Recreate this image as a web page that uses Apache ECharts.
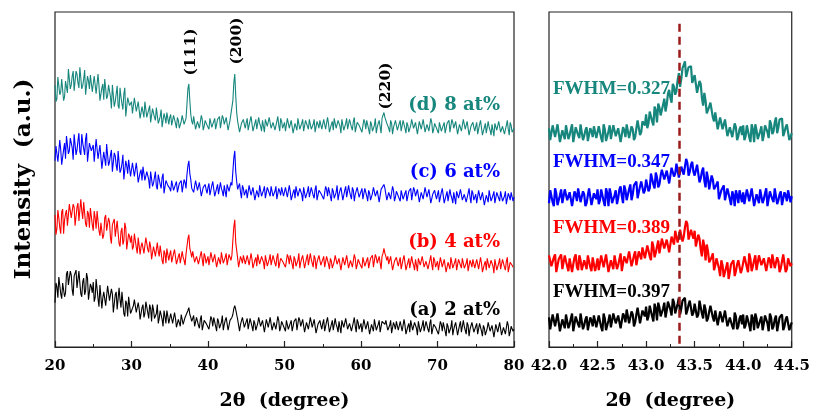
<!DOCTYPE html>
<html>
<head>
<meta charset="utf-8">
<script src="https://cdn.jsdelivr.net/npm/echarts@6/dist/echarts.min.js"></script>
<style>
  html, body { margin: 0; padding: 0; background: #fff; }
  #chart { width: 813px; height: 416px; }
</style>
</head>
<body>
<div id="chart"></div>
<script>
// full scan 20-80 deg: readings at every 0.25 deg ("wide*")
// plus the readings half a step later ("wide*Mid"), offset intensities in a.u.
var wideStart = 20, wideStep = 0.25;
var wideD = [
  266, 252, 274, 259, 272, 254, 270, 282, 262, 275, 260, 280, 268, 284, 262, 272, 256, 275, 262, 276,
  260, 274, 255, 265, 249, 267, 272, 252, 266, 254, 266, 244, 257, 245, 263, 247, 257, 234, 253, 245,
  249, 238, 251, 239, 248, 233, 242, 249, 233, 241, 228, 242, 233, 243, 227, 234, 223, 237, 227, 238,
  233, 225, 235, 227, 233, 222, 229, 235, 224, 246, 267, 236, 226, 233, 223, 228, 220, 231, 224, 232,
  224, 232, 223, 229, 221, 231, 234, 224, 232, 226, 233, 222, 229, 250, 277, 238, 230, 219, 229, 226,
  228, 220, 230, 232, 223, 231, 221, 227, 219, 229, 231, 224, 233, 222, 228, 220, 229, 225, 232, 222,
  228, 220, 231, 223, 229, 219, 226, 232, 221, 227, 219, 230, 224, 231, 221, 226, 218, 229, 222, 230,
  222, 230, 221, 227, 219, 229, 232, 222, 230, 224, 231, 220, 227, 221, 231, 223, 229, 218, 228, 225,
  226, 218, 228, 230, 221, 229, 219, 225, 217, 227, 229, 232, 238, 230, 226, 218, 227, 223, 230, 220,
  227, 219, 230, 222, 228, 218, 225, 231, 220, 226, 218, 229, 223, 230, 220, 225, 217, 228, 221, 229,
  220, 228, 219, 225, 217, 227, 230, 220, 228, 222, 229, 218, 225, 219, 229, 221, 227, 216, 226, 223,
  224, 216, 226, 228, 219, 227, 217, 223, 215, 225, 227, 220, 229, 218, 224, 216, 225, 221, 228, 218,
  222
];
var wideDMid = [
  249, 274, 256, 272, 250, 270, 258, 280, 266, 280, 258, 277, 263, 285, 265, 281, 257, 270, 276, 259,
  275, 257, 277, 250, 263, 251, 271, 255, 264, 242, 264, 249, 265, 242, 254, 241, 263, 236, 252, 243,
  237, 253, 239, 249, 232, 244, 233, 249, 237, 245, 227, 240, 230, 244, 230, 241, 222, 233, 238, 226,
  236, 226, 237, 222, 230, 223, 235, 226, 232, 262, 250, 229, 234, 221, 229, 222, 235, 220, 230, 225,
  221, 234, 224, 232, 219, 229, 222, 235, 226, 233, 220, 230, 232, 268, 255, 229, 218, 227, 231, 222,
  232, 222, 234, 219, 227, 221, 233, 224, 230, 218, 231, 223, 233, 220, 228, 221, 234, 219, 229, 224,
  219, 232, 222, 230, 217, 227, 220, 233, 224, 231, 218, 228, 221, 233, 223, 231, 217, 226, 230, 221,
  231, 221, 233, 218, 226, 220, 232, 223, 229, 217, 230, 222, 232, 219, 227, 220, 233, 218, 228, 223,
  218, 231, 221, 229, 216, 226, 219, 232, 223, 230, 217, 232, 233, 227, 222, 230, 216, 225, 229, 220,
  230, 220, 232, 217, 225, 219, 231, 222, 228, 216, 229, 221, 231, 218, 226, 219, 232, 217, 227, 222,
  217, 230, 220, 228, 215, 225, 218, 231, 222, 229, 216, 226, 219, 231, 221, 229, 215, 224, 228, 219,
  228, 218, 230, 215, 223, 217, 229, 220, 226, 214, 227, 219, 229, 216, 224, 217, 230, 215, 225, 220
];
var wideC = [
  189, 205, 188, 200, 186, 207, 214, 196, 212, 202, 216, 195, 209, 198, 216, 201, 211, 188, 207, 199,
  205, 189, 209, 192, 203, 182, 196, 206, 184, 195, 178, 197, 184, 199, 177, 186, 170, 189, 176, 190,
  175, 185, 171, 178, 168, 180, 183, 169, 178, 170, 178, 163, 172, 163, 175, 165, 172, 156, 169, 164,
  161, 169, 159, 165, 157, 166, 169, 159, 167, 175, 189, 170, 163, 157, 167, 159, 165, 154, 163, 160,
  162, 154, 164, 166, 157, 165, 155, 161, 153, 163, 165, 158, 167, 178, 199, 168, 161, 157, 164, 154,
  160, 152, 163, 155, 161, 151, 158, 164, 153, 159, 151, 162, 156, 163, 153, 158, 150, 161, 154, 162,
  153, 161, 152, 158, 150, 160, 163, 153, 161, 155, 162, 151, 158, 152, 162, 154, 160, 149, 159, 156,
  158, 150, 160, 162, 153, 161, 151, 157, 149, 159, 161, 154, 163, 152, 158, 150, 159, 155, 162, 152,
  158, 150, 161, 153, 159, 149, 156, 162, 151, 157, 149, 160, 165, 160, 151, 156, 148, 159, 152, 160,
  151, 159, 150, 156, 148, 158, 161, 151, 159, 153, 160, 149, 156, 150, 160, 152, 158, 147, 157, 154,
  155, 147, 157, 159, 150, 158, 148, 154, 146, 156, 158, 151, 160, 149, 155, 147, 156, 152, 159, 149,
  155, 147, 158, 150, 156, 146, 153, 159, 148, 154, 146, 157, 151, 158, 148, 153, 145, 156, 149, 157,
  152
];
var wideCMid = [
  204, 188, 210, 185, 200, 191, 213, 199, 210, 190, 214, 200, 217, 195, 207, 195, 217, 190, 206, 197,
  188, 211, 191, 205, 181, 198, 184, 204, 188, 200, 176, 194, 179, 200, 180, 195, 171, 184, 190, 173,
  187, 173, 187, 167, 177, 169, 183, 170, 177, 161, 176, 166, 178, 160, 170, 161, 176, 157, 169, 162,
  158, 171, 160, 168, 155, 164, 157, 170, 161, 184, 176, 161, 157, 169, 159, 167, 153, 162, 165, 156,
  166, 156, 168, 153, 161, 155, 167, 158, 164, 152, 165, 157, 164, 192, 178, 160, 166, 151, 161, 156,
  151, 164, 154, 162, 149, 159, 152, 165, 156, 163, 150, 160, 153, 165, 155, 163, 149, 158, 162, 153,
  162, 152, 164, 149, 157, 151, 163, 154, 160, 148, 161, 153, 163, 150, 158, 151, 164, 149, 159, 154,
  150, 163, 153, 161, 148, 158, 151, 164, 155, 162, 149, 159, 152, 164, 154, 162, 148, 157, 161, 152,
  161, 151, 163, 148, 156, 150, 162, 153, 159, 147, 160, 162, 161, 149, 157, 150, 163, 148, 158, 153,
  148, 161, 151, 159, 146, 156, 149, 162, 153, 160, 147, 157, 150, 162, 152, 160, 146, 155, 159, 150,
  159, 149, 161, 146, 154, 148, 160, 151, 157, 145, 158, 150, 160, 147, 155, 148, 161, 146, 156, 151,
  146, 159, 149, 157, 144, 154, 147, 160, 151, 158, 145, 155, 148, 160, 150, 158, 144, 153, 157, 148
];
var wideB = [
  134, 120, 131, 115, 140, 129, 139, 123, 147, 131, 142, 124, 146, 128, 138, 147, 125, 138, 121, 139,
  118, 131, 138, 118, 126, 110, 131, 118, 131, 111, 124, 130, 111, 116, 102, 121, 108, 121, 101, 112,
  113, 102, 108, 95, 112, 102, 107, 94, 109, 96, 102, 90, 104, 90, 97, 103, 88, 98, 85, 99,
  94, 86, 95, 97, 88, 95, 85, 91, 83, 102, 114, 96, 97, 86, 92, 84, 93, 89, 95, 85,
  92, 84, 95, 87, 93, 83, 90, 96, 85, 91, 83, 94, 88, 108, 129, 98, 81, 92, 85, 93,
  84, 92, 83, 89, 81, 91, 94, 84, 92, 86, 93, 82, 89, 83, 93, 85, 91, 80, 90, 87,
  89, 81, 91, 93, 84, 92, 82, 88, 80, 90, 92, 85, 94, 83, 89, 81, 90, 86, 93, 83,
  89, 81, 92, 84, 90, 80, 87, 93, 82, 88, 80, 91, 85, 92, 82, 87, 79, 90, 83, 91,
  83, 91, 82, 88, 80, 90, 93, 83, 91, 85, 92, 92, 100, 92, 92, 84, 90, 79, 89, 86,
  87, 79, 89, 91, 82, 90, 80, 86, 78, 88, 90, 83, 92, 81, 87, 79, 88, 84, 91, 81,
  87, 79, 90, 82, 88, 78, 85, 91, 80, 86, 78, 89, 83, 90, 80, 85, 77, 88, 81, 89,
  80, 88, 79, 85, 77, 87, 90, 80, 88, 82, 89, 78, 85, 79, 89, 81, 87, 76, 86, 83,
  83
];
var wideBMid = [
  114, 139, 121, 137, 115, 135, 123, 145, 131, 145, 123, 142, 128, 150, 130, 146, 122, 135, 141, 124,
  138, 120, 140, 113, 126, 114, 134, 118, 127, 105, 127, 112, 128, 105, 117, 104, 126, 99, 115, 106,
  99, 115, 101, 111, 94, 106, 95, 111, 99, 107, 89, 102, 92, 106, 92, 103, 84, 95, 100, 88,
  98, 88, 99, 84, 92, 85, 97, 88, 94, 110, 100, 91, 97, 84, 92, 85, 97, 82, 92, 87,
  83, 96, 86, 94, 81, 91, 84, 97, 88, 95, 82, 92, 93, 122, 106, 90, 80, 89, 93, 84,
  93, 83, 95, 80, 88, 82, 94, 85, 91, 79, 92, 84, 94, 81, 89, 82, 95, 80, 90, 85,
  81, 94, 84, 92, 79, 89, 82, 95, 86, 93, 80, 90, 83, 95, 85, 93, 79, 88, 92, 83,
  92, 82, 94, 79, 87, 81, 93, 84, 90, 78, 91, 83, 93, 80, 88, 81, 94, 79, 89, 84,
  80, 93, 83, 91, 78, 88, 81, 94, 85, 92, 79, 95, 95, 88, 84, 92, 78, 87, 91, 82,
  91, 81, 93, 78, 86, 80, 92, 83, 89, 77, 90, 82, 92, 79, 87, 80, 93, 78, 88, 83,
  78, 91, 81, 89, 76, 86, 79, 92, 83, 90, 77, 87, 80, 92, 82, 90, 76, 85, 89, 80,
  89, 79, 91, 76, 84, 78, 90, 81, 87, 75, 88, 80, 90, 77, 85, 78, 91, 76, 86, 81
];
var wideA = [
  45, 61, 71, 54, 65, 51, 74, 63, 77, 58, 72, 78, 60, 65, 51, 70, 57, 70, 50, 61,
  66, 50, 59, 41, 64, 50, 58, 40, 63, 45, 54, 35, 56, 38, 48, 56, 34, 47, 31, 49,
  33, 42, 47, 33, 39, 28, 43, 34, 44, 29, 39, 43, 29, 34, 24, 37, 28, 37, 24, 31,
  25, 33, 23, 29, 21, 30, 33, 23, 30, 32, 40, 30, 27, 21, 30, 22, 28, 17, 27, 24,
  26, 18, 28, 30, 21, 29, 19, 25, 17, 27, 29, 22, 28, 33, 42, 33, 27, 23, 30, 20,
  26, 18, 29, 21, 27, 17, 24, 30, 19, 25, 17, 28, 22, 29, 19, 24, 16, 27, 20, 28,
  19, 27, 18, 24, 16, 26, 29, 19, 27, 21, 28, 17, 24, 18, 28, 20, 26, 15, 25, 22,
  24, 16, 26, 28, 19, 27, 17, 23, 15, 25, 27, 20, 29, 18, 24, 16, 25, 21, 28, 18,
  24, 16, 27, 19, 25, 15, 22, 28, 17, 23, 15, 26, 25, 27, 17, 22, 14, 25, 18, 26,
  17, 25, 16, 22, 14, 24, 27, 17, 25, 19, 26, 15, 22, 16, 26, 18, 24, 13, 23, 20,
  21, 13, 23, 25, 16, 24, 14, 20, 12, 22, 24, 17, 26, 15, 21, 13, 22, 18, 25, 15,
  21, 13, 24, 16, 22, 12, 19, 25, 14, 20, 12, 23, 17, 24, 14, 19, 11, 22, 15, 23,
  18
];
var wideAMid = [
  65, 50, 73, 49, 65, 55, 77, 63, 73, 52, 75, 60, 77, 54, 66, 53, 75, 48, 64, 55,
  46, 69, 49, 63, 39, 56, 42, 62, 47, 59, 35, 53, 38, 60, 40, 55, 31, 44, 51, 34,
  32, 48, 35, 45, 28, 40, 30, 46, 35, 43, 26, 38, 28, 43, 29, 39, 21, 31, 37, 24,
  34, 24, 35, 20, 28, 21, 33, 24, 29, 37, 33, 26, 32, 19, 26, 19, 32, 17, 27, 22,
  18, 31, 21, 29, 16, 26, 19, 32, 23, 30, 17, 27, 30, 39, 38, 28, 16, 25, 29, 20,
  29, 19, 31, 16, 24, 18, 30, 21, 27, 15, 28, 20, 30, 17, 25, 18, 31, 16, 26, 21,
  16, 29, 19, 27, 14, 24, 17, 30, 21, 28, 15, 25, 18, 30, 20, 28, 14, 23, 27, 18,
  28, 18, 30, 15, 23, 17, 29, 20, 26, 14, 27, 19, 29, 16, 24, 17, 30, 15, 25, 20,
  15, 28, 18, 26, 13, 23, 16, 29, 20, 27, 14, 24, 23, 29, 19, 27, 13, 22, 26, 17,
  26, 16, 28, 13, 21, 15, 27, 18, 24, 12, 25, 17, 27, 14, 22, 15, 28, 13, 23, 18,
  13, 26, 16, 24, 11, 21, 14, 27, 18, 25, 12, 22, 15, 27, 17, 25, 11, 20, 24, 15,
  24, 14, 26, 11, 19, 13, 25, 16, 22, 10, 23, 15, 25, 12, 20, 13, 26, 11, 21, 16
];

// zoom on (200) peak, 42.0-44.5 deg, step 0.025 plus half-step readings
var zoomStart = 42, zoomStep = 0.025;
var zoomD = [
  222, 209, 226, 214, 224, 208, 219, 225, 211, 221, 208, 223, 215, 226, 210, 220, 209, 222, 213, 224,
  211, 224, 208, 221, 214, 225, 210, 226, 215, 222, 209, 220, 226, 212, 224, 210, 222, 229, 218, 227,
  236, 227, 238, 225, 240, 247, 235, 246, 239, 257, 253, 267, 256, 271, 264, 283, 290, 279, 286, 268,
  276, 258, 270, 253, 258, 237, 244, 246, 229, 236, 220, 232, 222, 231, 214, 223, 211, 223, 214, 224,
  225, 214, 223, 208, 221, 226, 211, 219, 209, 225, 218, 230, 216, 228, 217, 231, 232, 218, 226, 210,
  217
];
var zoomDMid = [
  210, 225, 213, 226, 208, 220, 211, 224, 215, 226, 209, 221, 212, 225, 214, 223, 208, 219, 224, 212,
  224, 212, 226, 209, 219, 211, 225, 214, 222, 208, 223, 213, 225, 210, 221, 213, 230, 215, 229, 225,
  222, 239, 229, 244, 228, 243, 236, 252, 246, 261, 248, 264, 260, 278, 272, 286, 274, 284, 285, 268,
  275, 258, 267, 245, 250, 238, 248, 233, 238, 221, 233, 221, 231, 214, 223, 213, 227, 210, 221, 215,
  210, 225, 213, 226, 208, 220, 211, 224, 215, 227, 212, 226, 219, 233, 223, 231, 214, 223, 226, 213
];
var zoomC = [
  146, 159, 143, 156, 149, 160, 145, 161, 150, 157, 144, 155, 161, 147, 158, 143, 154, 159, 146, 153,
  160, 149, 158, 143, 156, 161, 146, 154, 145, 160, 153, 164, 149, 160, 149, 164, 168, 157, 168, 156,
  170, 158, 176, 165, 177, 162, 174, 181, 168, 179, 167, 183, 176, 188, 173, 184, 174, 187, 178, 188,
  174, 185, 167, 178, 169, 178, 160, 174, 160, 165, 150, 159, 164, 149, 159, 144, 154, 159, 146, 153,
  157, 144, 161, 149, 159, 143, 154, 160, 146, 156, 143, 158, 150, 161, 145, 155, 144, 157, 148, 159,
  153
];
var zoomCMid = [
  159, 147, 161, 144, 154, 146, 160, 149, 157, 143, 158, 148, 160, 145, 155, 146, 161, 144, 156, 150,
  145, 160, 148, 161, 143, 155, 146, 159, 151, 163, 146, 159, 151, 165, 155, 165, 151, 163, 170, 159,
  172, 161, 176, 161, 172, 165, 180, 170, 179, 166, 182, 173, 186, 172, 183, 175, 191, 174, 185, 178,
  172, 185, 171, 182, 162, 171, 160, 170, 159, 168, 149, 159, 149, 161, 150, 158, 143, 154, 159, 147,
  145, 160, 148, 161, 143, 155, 146, 159, 150, 161, 144, 156, 147, 160, 149, 158, 143, 154, 159, 147
];
var zoomB = [
  93, 82, 91, 76, 89, 94, 79, 87, 77, 92, 84, 94, 78, 88, 76, 90, 93, 81, 91, 77,
  90, 77, 94, 82, 92, 76, 87, 93, 79, 89, 77, 92, 85, 97, 82, 93, 83, 97, 89, 101,
  89, 103, 88, 102, 96, 108, 94, 111, 101, 109, 97, 110, 118, 106, 119, 107, 121, 125, 110, 114,
  118, 104, 110, 92, 102, 104, 86, 91, 78, 90, 80, 88, 71, 81, 69, 84, 88, 77, 88, 75,
  78, 92, 76, 89, 82, 93, 78, 94, 83, 90, 77, 88, 94, 80, 91, 76, 87, 92, 79, 86,
  85
];
var zoomBMid = [
  92, 80, 94, 77, 87, 79, 93, 82, 90, 76, 91, 81, 93, 78, 88, 79, 94, 77, 89, 83,
  78, 93, 81, 94, 76, 88, 79, 92, 83, 95, 78, 91, 83, 97, 87, 97, 83, 95, 101, 90,
  103, 92, 107, 91, 102, 95, 110, 100, 109, 96, 112, 104, 118, 105, 118, 112, 128, 109, 119, 110,
  102, 114, 99, 109, 88, 97, 85, 95, 83, 91, 72, 83, 73, 86, 76, 86, 72, 84, 90, 79,
  92, 81, 95, 77, 88, 78, 93, 83, 90, 77, 91, 80, 94, 78, 87, 80, 94, 76, 90, 82
];
var zoomA = [
  30, 17, 34, 22, 32, 16, 27, 33, 19, 29, 16, 31, 23, 34, 18, 28, 17, 30, 21, 32,
  19, 32, 16, 29, 22, 33, 19, 35, 25, 32, 20, 31, 38, 24, 36, 21, 33, 38, 26, 34,
  41, 31, 40, 26, 39, 45, 31, 39, 30, 46, 38, 49, 34, 44, 33, 47, 50, 37, 47, 32,
  44, 30, 47, 34, 43, 26, 36, 41, 26, 35, 21, 35, 27, 37, 20, 30, 18, 31, 21, 32,
  33, 22, 31, 16, 29, 34, 19, 27, 17, 32, 24, 34, 18, 28, 16, 30, 33, 21, 31, 17,
  25
];
var zoomAMid = [
  18, 33, 21, 34, 16, 28, 19, 32, 23, 34, 17, 29, 20, 33, 22, 31, 16, 27, 32, 20,
  32, 20, 34, 17, 27, 20, 34, 24, 32, 19, 34, 25, 37, 23, 33, 25, 40, 24, 37, 31,
  27, 42, 31, 44, 27, 40, 31, 45, 37, 48, 32, 45, 36, 50, 39, 48, 33, 43, 48, 35,
  46, 33, 46, 29, 38, 29, 42, 30, 37, 22, 36, 25, 37, 21, 30, 21, 35, 18, 29, 23,
  19, 32, 22, 33, 17, 29, 18, 31, 24, 33, 16, 30, 21, 32, 23, 30, 17, 28, 31, 21
];

var peakPos = 43.34;
var sampleNames = ['(d) 8 at%', '(c) 6 at%', '(b) 4 at%', '(a) 2 at%'];
var fwhmNames = ['FWHM=0.327', 'FWHM=0.347', 'FWHM=0.389', 'FWHM=0.397'];
var planes = ['(111)', '(200)', '(220)'];
var colors = ['#17877d', '#0000ff', '#ff0000', '#000000'];

// merge the step readings with the half-step readings into [2theta, I] pairs
function merge(start, step, main, mid) {
  var out = [];
  main.forEach(function (y, i) {
    var x = start + i * step;
    out.push([+x.toFixed(4), y]);
    if (i < mid.length) out.push([+(x + step / 2).toFixed(4), mid[i]]);
  });
  return out;
}

var serif = '"DejaVu Serif", serif';
var times = '"Liberation Serif", "Times New Roman", serif';

var chart = echarts.init(document.getElementById('chart'));

var wideSets = [[wideD, wideDMid], [wideC, wideCMid], [wideB, wideBMid], [wideA, wideAMid]];
var zoomSets = [[zoomD, zoomDMid], [zoomC, zoomCMid], [zoomB, zoomBMid], [zoomA, zoomAMid]];
var series = [];
wideSets.forEach(function (d, k) {
  series.push({
    type: 'line', xAxisIndex: 0, yAxisIndex: 0, showSymbol: false, silent: true,
    data: merge(wideStart, wideStep, d[0], d[1]),
    lineStyle: { color: colors[k], width: 1.1 }
  });
});
zoomSets.forEach(function (d, k) {
  var s = {
    type: 'line', xAxisIndex: 1, yAxisIndex: 1, showSymbol: false, silent: true,
    data: merge(zoomStart, zoomStep, d[0], d[1]),
    lineStyle: { color: colors[k], width: 2.2 }
  };
  if (k === 0) {
    s.markLine = {
      symbol: 'none', silent: true, z: 10,
      label: { show: false },
      lineStyle: { color: '#9b1b1b', width: 2.5, type: [8, 5] },
      data: [[{ coord: [peakPos, 328] }, { coord: [peakPos, 0] }]]
    };
  }
  series.push(s);
});

var xCommon = {
  type: 'value',
  axisLine: { show: true, lineStyle: { color: '#222', width: 1.2 } },
  axisTick: { show: true, inside: true, length: 6, lineStyle: { color: '#222', width: 1.2 } },
  minorTick: { show: true, splitNumber: 2, length: 3, lineStyle: { color: '#222', width: 1 } },
  splitLine: { show: false },
  axisLabel: { color: '#000', fontFamily: serif, fontWeight: 'bold', fontSize: 15, margin: 12 },
  name: '2θ  (degree)',
  nameLocation: 'middle',
  nameGap: 45,
  nameTextStyle: { color: '#000', fontFamily: serif, fontWeight: 'bold', fontSize: 19 }
};

var yCommon = {
  type: 'value', min: 0, max: 340,
  axisLine: { show: false }, axisTick: { show: false },
  axisLabel: { show: false }, splitLine: { show: false }
};

var texts = [];
// sample labels in the full scan
var sampleY = [105, 172, 242, 310];
sampleNames.forEach(function (t, k) {
  texts.push({
    type: 'text', x: 500, y: sampleY[k],
    style: { text: t, fill: colors[k], font: 'bold 18px ' + serif, align: 'right', verticalAlign: 'middle' }
  });
});
// FWHM labels in the zoom
var fwhmY = [89, 162, 228, 292];
fwhmNames.forEach(function (t, k) {
  texts.push({
    type: 'text', x: 553, y: fwhmY[k],
    style: { text: t, fill: colors[k], font: 'bold 19px ' + times, align: 'left', verticalAlign: 'middle' }
  });
});
// plane labels, rotated
var planeXY = [[191, 52], [237, 41], [386, 86]];
planes.forEach(function (t, k) {
  texts.push({
    type: 'text', x: planeXY[k][0], y: planeXY[k][1], rotation: Math.PI / 2,
    style: { text: t, fill: '#000', font: 'bold 15.5px ' + serif, align: 'center', verticalAlign: 'middle' }
  });
});
// y title
texts.push({
  type: 'text', x: 24, y: 179, rotation: Math.PI / 2,
  style: { text: 'Intensity  (a.u.)', fill: '#000', font: 'bold 23px ' + serif, align: 'center', verticalAlign: 'middle' }
});

var option = {
  animation: false,
  backgroundColor: '#fff',
  grid: [
    { left: 55, right: 299, top: 12, bottom: 64, show: true, borderColor: '#222', borderWidth: 1.2, backgroundColor: 'transparent' },
    { left: 549, right: 19, top: 12, bottom: 64, show: true, borderColor: '#222', borderWidth: 1.2, backgroundColor: 'transparent' }
  ],
  xAxis: [
    Object.assign({}, xCommon, { gridIndex: 0, min: 20, max: 80, interval: 10 }),
    Object.assign({}, xCommon, {
      gridIndex: 1, min: 42, max: 44.5, interval: 0.5,
      axisLabel: Object.assign({}, xCommon.axisLabel, {
        formatter: function (v) { return v.toFixed(1); }
      })
    })
  ],
  yAxis: [
    Object.assign({}, yCommon, { gridIndex: 0 }),
    Object.assign({}, yCommon, { gridIndex: 1 })
  ],
  series: series,
  graphic: texts
};

chart.setOption(option);
</script>
</body>
</html>
